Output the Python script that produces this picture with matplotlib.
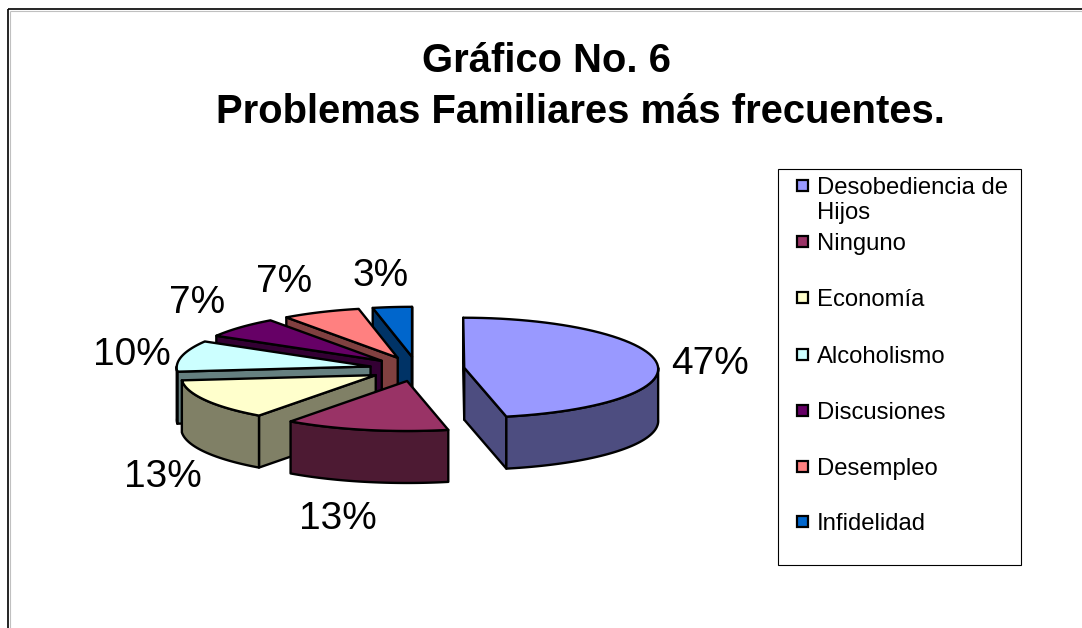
import numpy as np
import matplotlib
matplotlib.use('Agg')
import matplotlib.pyplot as plt
from matplotlib.patches import Polygon, Rectangle

plt.rcParams['font.family'] = ['Liberation Sans', 'DejaVu Sans']

# datos
categorias = ['Desobediencia de\nHijos', 'Ninguno', 'Economía', 'Alcoholismo',
              'Discusiones', 'Desempleo', 'Infidelidad']
casos = [14, 4, 4, 3, 2, 2, 1]
etiquetas = ['47%', '13%', '13%', '10%', '7%', '7%', '3%']
colores = ['#9999FF', '#993366', '#FFFFCC', '#CCFFFF', '#660066', '#FF8080', '#0066CC']
laterales = ['#4D4D80', '#4D1A33', '#808066', '#668080', '#330033', '#804040', '#003366']
pos_etiquetas = [(710, 364), (338, 519), (163, 477), (132, 355), (197, 303), (284, 282), (381, 276)]
pos_leyenda = [186, 242, 298, 355, 411, 467, 522]

# geometria del pastel
cx, cy = 417, 369
rx, ry = 194, 50
altura = 52
explosion = 0.245
vx = 413
persp = 0.02


def proyectar(X, Y, z=0):
    x = vx + (cx - vx + rx * X) * (1 - persp * Y)
    y = cy - ry * Y + z
    return x, y


fig = plt.figure(figsize=(10.82, 6.28), dpi=100)
ax = fig.add_axes([0, 0, 1, 1])
ax.set_xlim(0, 1082)
ax.set_ylim(628, 0)
ax.axis('off')

# marco del grafico
ax.plot([9.5, 9.5], [628, 10.5], color='#c0c0c0', lw=0.8, solid_capstyle='butt')
ax.plot([9.5, 1082], [10.5, 10.5], color='#c0c0c0', lw=0.8, solid_capstyle='butt')
ax.plot([8, 8], [628, 9], color='black', lw=1.2, solid_capstyle='butt')
ax.plot([8, 1082], [9, 9], color='black', lw=1.2, solid_capstyle='butt')

ax.text(546.5, 61, 'Gráfico No. 6', fontsize=28.85, fontweight='bold', ha='center', va='center')
ax.text(580, 112, 'Problemas Familiares más frecuentes.', fontsize=28.85, fontweight='bold',
        ha='center', va='center')

fracciones = np.array(casos) / sum(casos)
bordes = np.concatenate([[0], np.cumsum(fracciones) * 360])
medios = (bordes[:-1] + bordes[1:]) / 2
apex_y = explosion * np.cos(np.radians(medios))


def poligono(puntos, color):
    ax.add_patch(Polygon(puntos, closed=True, facecolor=color, edgecolor='black',
                         lw=1.7, joinstyle='round'))


def area(puntos):
    p = np.array(puntos)
    return 0.5 * np.sum(p[:, 0] * np.roll(p[:, 1], -1) - np.roll(p[:, 0], -1) * p[:, 1])


# de atras hacia adelante
for i in np.argsort(-apex_y):
    t0, t1 = bordes[i], bordes[i + 1]
    ox = explosion * np.sin(np.radians(medios[i]))
    oy = explosion * np.cos(np.radians(medios[i]))
    ang = np.radians(np.linspace(t0, t1, 60))
    borde_x = ox + np.sin(ang)
    borde_y = oy + np.cos(ang)

    # caras de corte
    for t, signo in ((t0, -1), (t1, 1)):
        a = np.radians(t)
        cara = [proyectar(ox, oy), proyectar(ox + np.sin(a), oy + np.cos(a)),
                proyectar(ox + np.sin(a), oy + np.cos(a), altura), proyectar(ox, oy, altura)]
        if area(cara) * signo > 0.5:
            poligono(cara, laterales[i])

    # pared exterior
    ini, fin = max(t0, 90), min(t1, 270)
    if fin > ini:
        ang2 = np.radians(np.linspace(ini, fin, 60))
        arriba = [proyectar(ox + np.sin(a), oy + np.cos(a)) for a in ang2]
        abajo = [proyectar(ox + np.sin(a), oy + np.cos(a), altura) for a in ang2[::-1]]
        poligono(arriba + abajo, laterales[i])

    # cara superior
    sup = [proyectar(ox, oy)] + [proyectar(x, y) for x, y in zip(borde_x, borde_y)]
    poligono(sup, colores[i])

for texto, (x, y) in zip(etiquetas, pos_etiquetas):
    ax.text(x, y, texto, fontsize=28, ha='center', va='center')

# leyenda
ax.add_patch(Rectangle((778, 169), 243, 396, facecolor='white', edgecolor='black', lw=0.8))
for nombre, color, y in zip(categorias, colores, pos_leyenda):
    ax.add_patch(Rectangle((797, y - 6), 11, 11, facecolor=color, edgecolor='black', lw=1.6))
    ax.text(817, y - 9, nombre, fontsize=17.2, va='top', ha='left', linespacing=1.17)

fig.savefig('out.png', dpi=100)
